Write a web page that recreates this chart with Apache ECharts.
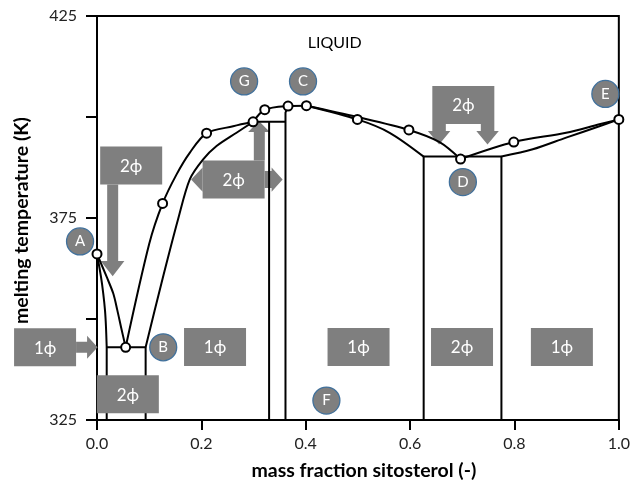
<!DOCTYPE html>
<html>
<head>
<meta charset="utf-8">
<script src="https://cdn.jsdelivr.net/npm/echarts@6/dist/echarts.min.js"></script>
<style>
html,body{margin:0;padding:0;background:#fff;}
#chart{width:633px;height:486px;}
</style>
</head>
<body>
<div id="chart"></div>
<script>
// ---------- data (mass fraction sitosterol, melting temperature K) ----------
const xTickLabels = ['0.0', '0.2', '0.4', '0.6', '0.8', '1.0'];
const yTickLabels = [325, 375, 425];

// measured points (open circles)
const ptsX = [0, 0.0549, 0.1257, 0.2100, 0.2991, 0.3215, 0.3661, 0.4013, 0.4990, 0.5977, 0.6967, 0.7987, 1.0];
const ptsT = [366.1, 343.0, 378.6, 396.0, 398.8, 401.8, 402.7, 402.8, 399.4, 396.8, 389.6, 393.8, 399.4];

// left solvus A -> eutectic
const solvusA_x = [0, 0.0077, 0.0120, 0.0153, 0.0172, 0.0186];
const solvusA_T = [366.1, 360.4, 356.3, 352.2, 348.1, 343.0];
// liquidus A -> B
const liqAB_x = [0, 0.0186, 0.0312, 0.0389, 0.0459, 0.0549];
const liqAB_T = [366.1, 360.4, 356.3, 352.2, 348.1, 343.0];
// liquidus B -> G
const liqBG_x = [0.0549, 0.1001, 0.1257, 0.1525, 0.1780, 0.2100, 0.2609, 0.2991];
const liqBG_T = [343.0, 368.6, 378.6, 385.8, 391.2, 396.0, 397.7, 398.8];
// solidus eutectic -> G
const solBG_x = [0.0932, 0.1234, 0.1556, 0.1780, 0.2034, 0.2291, 0.2674, 0.2991];
const solBG_T = [343.0, 358.8, 374.8, 384.6, 389.5, 392.8, 396.1, 398.8];
// liquidus G -> C
const liqGC_x = [0.2991, 0.3215, 0.3661, 0.4013];
const liqGC_T = [398.8, 401.8, 402.7, 402.8];
// liquidus C -> D
const liqCD_x = [0.4013, 0.4990, 0.5977, 0.6565, 0.6967];
const liqCD_T = [402.8, 400.0, 396.8, 393.8, 389.6];
// solidus C -> box
const solCD_x = [0.4013, 0.4990, 0.5608, 0.6260];
const solCD_T = [402.8, 399.4, 396.1, 390.2];
// liquidus D -> E
const liqDE_x = [0.6967, 0.7987, 0.8990, 0.9627, 1.0];
const liqDE_T = [389.6, 393.8, 396.1, 398.2, 399.4];
// solidus box -> E
const solDE_x = [0.7750, 0.8350, 0.8990, 0.9627, 1.0];
const solDE_T = [390.2, 392.0, 394.9, 397.7, 399.4];

// straight phase boundaries
const eutL_x = [0.0186, 0.0186, 0.0932, 0.0932];
const eutL_T = [325, 343.0, 343.0, 325];
const boxG1_x = [0.3298, 0.3298];
const boxG1_T = [325, 398.8];
const boxGtop_x = [0.2991, 0.3612];
const boxGtop_T = [398.8, 398.8];
const boxG2_x = [0.3612, 0.3612, 0.3661];
const boxG2_T = [325, 401.1, 402.7];
const boxD_x = [0.6260, 0.6260, 0.7750, 0.7750];
const boxD_T = [325, 390.2, 390.2, 325];

// lettered markers
const letters = ['A', 'B', 'C', 'D', 'E', 'F', 'G'];
const letterX = [-0.0325, 0.1269, 0.3948, 0.7011, 0.9742, 0.4396, 0.2819];
const letterT = [369.2, 343.0, 408.8, 383.9, 405.7, 329.8, 408.8];

// phase labels
const annoText = ['1ϕ', '1ϕ', '2ϕ', '1ϕ', '2ϕ', '1ϕ', '2ϕ', '2ϕ', '2ϕ'];
const annoX = [-0.0995, 0.2262, 0.0591, 0.5012, 0.6995, 0.8909, 0.0655, 0.2618, 0.7020];
const annoT = [343.0, 343.1, 331.4, 343.1, 343.1, 343.1, 388.0, 384.5, 403.0];
const annoKind = ['arrowRight', 'plain', 'plain', 'plain', 'plain', 'plain', 'arrowDown', 'arrowBoth', 'twoDown'];
const annoOnTop = [false, false, true, false, false, false, false, false, false];

const liquidText = 'LIQUID';
const liquidX = [0.4555];
const liquidT = [418.3];

// ---------- chart ----------
const FONT = 'Lato, "Open Sans", "Noto Sans", sans-serif';
const zip = (xs, ts) => xs.map((x, i) => [x, ts[i]]);

const RECT = [[-31, -19], [31, -19], [31, 19], [-31, 19]];
const SHAPES = {
  plain: [RECT],
  arrowRight: [RECT, [[31, -5.5], [42, -5.5], [42, -11.5], [52.5, 0], [42, 11.5], [42, 5.5], [31, 5.5]]],
  arrowDown: [RECT, [[-24, 19], [-13, 19], [-13, 95.5], [-6.8, 95.5], [-18.5, 110.8], [-30.5, 95.5], [-24, 95.5]]],
  arrowBoth: [RECT,
    [[-31, -12.2], [-42.5, 0], [-31, 12.2]],
    [[31, -8.5], [38, -8.5], [38, -12.2], [49, 0], [38, 12.2], [38, 8.5], [31, 8.5]],
    [[20.2, -19], [20.2, -47.5], [14.5, -47.5], [25.3, -58.5], [36.2, -47.5], [31.2, -47.5], [31.2, -19]]],
  twoDown: [RECT,
    [[-31, 19], [-17.5, 19], [-17.5, 26], [-13, 26], [-24.2, 39.5], [-35.5, 26], [-31, 26]],
    [[31, 19], [17.5, 19], [17.5, 26], [13, 26], [24.2, 39.5], [35.5, 26], [31, 26]]]
};

function renderAnno(params, api) {
  const i = api.value(2);
  const c = api.coord([api.value(0), api.value(1)]);
  const polys = SHAPES[annoKind[i]].map(pts => ({
    type: 'polygon',
    shape: { points: pts.map(p => [c[0] + p[0], c[1] + p[1]]) },
    style: { fill: '#7f7f7f' }
  }));
  polys.push({
    type: 'text', x: c[0], y: c[1] + 1,
    style: { text: annoText[i], fill: '#fff', fontSize: 17, fontFamily: FONT, align: 'center', verticalAlign: 'middle' }
  });
  return { type: 'group', children: polys };
}

function lineSeries(xs, ts, smooth) {
  return {
    type: 'line', data: zip(xs, ts), showSymbol: false, symbol: 'none',
    smooth: smooth, lineStyle: { color: '#000', width: 2 }, z: 3, silent: true, clip: false
  };
}

const annoIdx = annoText.map((t, i) => i);
const annoUnder = annoIdx.filter(i => !annoOnTop[i]).map(i => [annoX[i], annoT[i], i]);
const annoOver = annoIdx.filter(i => annoOnTop[i]).map(i => [annoX[i], annoT[i], i]);

const chart = echarts.init(document.getElementById('chart'), null, { renderer: 'canvas' });
chart.setOption({
  animation: false,
  backgroundColor: '#fff',
  textStyle: { fontFamily: FONT },
  grid: { left: 97, right: 13, top: 16, bottom: 64, show: true, borderColor: '#000', borderWidth: 2, backgroundColor: 'transparent' },
  xAxis: {
    type: 'value', min: 0, max: 1, interval: 0.2,
    name: 'mass fraction sitosterol (-)', nameLocation: 'middle', nameGap: 41,
    nameTextStyle: { fontWeight: 'bold', fontSize: 19.5, color: '#000', fontFamily: FONT, padding: [0, 0, 0, 12] },
    axisLine: { lineStyle: { color: '#000', width: 2 } },
    axisTick: { show: true, length: 10, lineStyle: { color: '#000', width: 2 } },
    axisLabel: { formatter: v => xTickLabels[Math.round(v / 0.2)] || '', color: '#222', fontSize: 16, margin: 16, fontFamily: FONT },
    splitLine: { show: false }
  },
  yAxis: {
    type: 'value', min: 325, max: 425, interval: 25,
    name: 'melting temperature (K)', nameLocation: 'middle', nameGap: 65,
    nameTextStyle: { fontWeight: 'bold', fontSize: 19.5, color: '#000', fontFamily: FONT, padding: [0, 5, 0, 0] },
    axisLine: { lineStyle: { color: '#000', width: 2 } },
    axisTick: { show: true, length: 11, lineStyle: { color: '#000', width: 2 } },
    axisLabel: { formatter: v => (yTickLabels.indexOf(v) >= 0 ? String(v) : ''), color: '#222', fontSize: 16, margin: 20, fontFamily: FONT },
    splitLine: { show: false }
  },
  series: [
    { type: 'custom', renderItem: renderAnno, data: annoUnder, z: 1, clip: false, silent: true, encode: { x: 0, y: 1 } },
    lineSeries(solvusA_x, solvusA_T, 0.3),
    lineSeries(liqAB_x, liqAB_T, 0.3),
    lineSeries(liqBG_x, liqBG_T, 0.3),
    lineSeries(solBG_x, solBG_T, 0.3),
    lineSeries(liqGC_x, liqGC_T, 0.3),
    lineSeries(liqCD_x, liqCD_T, 0.3),
    lineSeries(solCD_x, solCD_T, 0.3),
    lineSeries(liqDE_x, liqDE_T, 0.3),
    lineSeries(solDE_x, solDE_T, 0.3),
    lineSeries(eutL_x, eutL_T, false),
    lineSeries(boxG1_x, boxG1_T, false),
    lineSeries(boxGtop_x, boxGtop_T, false),
    lineSeries(boxG2_x, boxG2_T, false),
    lineSeries(boxD_x, boxD_T, false),
    { type: 'custom', renderItem: renderAnno, data: annoOver, z: 5, clip: false, silent: true, encode: { x: 0, y: 1 } },
    {
      type: 'scatter', data: zip(ptsX, ptsT), symbol: 'circle', symbolSize: 9, z: 6, clip: false, silent: true,
      itemStyle: { color: '#fff', borderColor: '#000', borderWidth: 2, opacity: 1 }
    },
    {
      type: 'scatter', data: zip(letterX, letterT), symbol: 'circle', symbolSize: 27, z: 7, clip: false, silent: true,
      itemStyle: { color: '#7f7f7f', borderColor: '#41719c', borderWidth: 1.3, opacity: 1 },
      label: { show: true, position: 'inside', formatter: p => letters[p.dataIndex], color: '#fff', fontSize: 15, fontFamily: FONT }
    },
    {
      type: 'scatter', data: zip(liquidX, liquidT), symbolSize: 0, z: 7, clip: false, silent: true,
      itemStyle: { opacity: 1 },
      label: { show: true, position: 'inside', formatter: liquidText, color: '#000', fontSize: 16, fontFamily: FONT }
    }
  ]
});
</script>
</body>
</html>
